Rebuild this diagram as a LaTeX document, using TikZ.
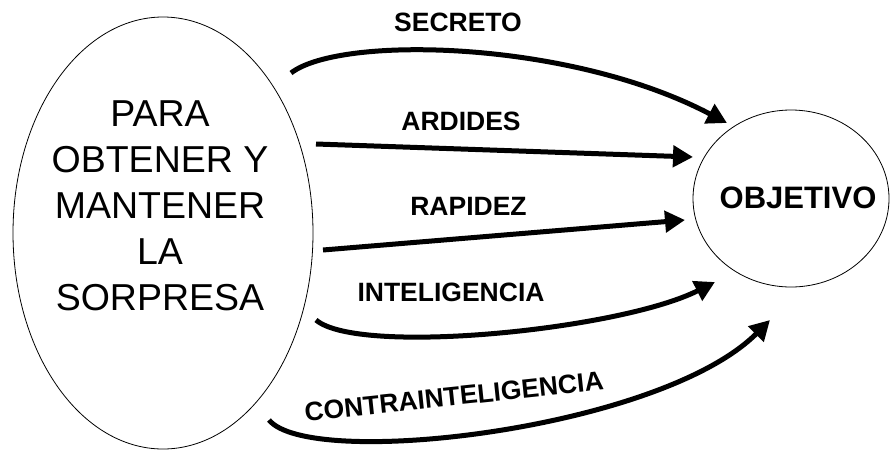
\documentclass[tikz,border=0pt]{standalone}
\usepackage{fontspec}
\setmainfont{Liberation Sans}
\usetikzlibrary{arrows.meta,positioning,shapes.geometric}

\begin{document}
\begin{tikzpicture}[x=1pt,y=-1pt,
      circulo/.style={draw=black,ellipse,line width=.8pt,inner sep=0pt},
      flecha/.style={draw=black,line width=5pt,-{Triangle[length=20pt,width=21pt]}},
      etiqueta/.style={font=\fontsize{26.5}{30}\selectfont\bfseries,inner sep=0pt}
    ]
    \useasboundingbox (0,0) rectangle (890,450);

    \node[circulo,minimum width=300pt,minimum height=432pt] (sorpresa) at (163,233) {};
    \node[circulo,minimum width=196pt,minimum height=177pt] (objetivo) at (791,198.5) {};

    \node[align=center,inner sep=0pt,font=\fontsize{37.5}{46}\selectfont] (sorpresatxt) at (160,206)
      {PARA\\OBTENER Y\\MANTENER\\LA\\SORPRESA};
    \node[font=\fontsize{31}{36}\selectfont\bfseries,inner sep=0pt] (objetivotxt) at (798,197.5) {OBJETIVO};

    \node[etiqueta] (secreto) at (458,22) {SECRETO};
    \node[etiqueta] (ardides) at (461,121) {ARDIDES};
    \node[etiqueta] (rapidez) at (468.5,206) {RAPIDEZ};
    \node[etiqueta] (inteligencia) at (451,292) {INTELIGENCIA};
    \node[etiqueta,rotate=6] (contra) at (454,396.5) {CONTRAINTELIGENCIA};

    % free ends of the arrows
    \coordinate (secreto-a) at (291,73);
    \coordinate (secreto-b) at (727,123);
    \coordinate (ardides-a) at (316,144);
    \coordinate (ardides-b) at (693,157);
    \coordinate (rapidez-a) at (323,250);
    \coordinate (rapidez-b) at (685,220);
    \coordinate (inteligencia-a) at (316,320);
    \coordinate (inteligencia-b) at (715,282);
    \coordinate (contra-a) at (269,420);
    \coordinate (contra-b) at (770,320);

    \path[flecha] (secreto-a) .. controls (340,35) and (570,40) .. (secreto-b);
    \path[flecha] (ardides-a) -- (ardides-b);
    \path[flecha] (rapidez-a) -- (rapidez-b);
    \path[flecha] (inteligencia-a) .. controls (358,356) and (620,330) .. (inteligencia-b);
    \path[flecha] (contra-a) .. controls (310,470) and (660,430) .. (contra-b);
  \end{tikzpicture}
\end{document}
